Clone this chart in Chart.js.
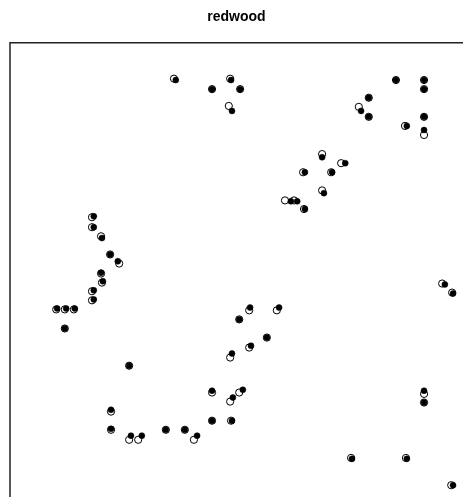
<!DOCTYPE html>
<html>
<head>
<meta charset="utf-8">
<script src="https://cdn.jsdelivr.net/npm/chart.js@4"></script>
<style>
  html, body { margin: 0; padding: 0; background: #fff; }
  #wrap { width: 463px; height: 497px; }
</style>
</head>
<body>
<div id="wrap"><canvas id="chart"></canvas></div>
<script>
// redwood seedlings: original locations (open circles)
const treeX = [0.362, 0.446, 0.486, 0.508, 0.483, 0.852, 0.914, 0.914, 0.792, 0.770,
  0.792, 0.914, 0.872, 0.914, 0.689, 0.731, 0.647, 0.709, 0.689, 0.607,
  0.627, 0.649, 0.181, 0.181, 0.201, 0.221, 0.241, 0.201, 0.203, 0.181,
  0.181, 0.102, 0.121, 0.141, 0.121, 0.528, 0.589, 0.506, 0.567, 0.528,
  0.486, 0.263, 0.223, 0.223, 0.263, 0.283, 0.344, 0.386, 0.406, 0.446,
  0.446, 0.486, 0.506, 0.488, 0.914, 0.914, 0.753, 0.874, 0.974, 0.954,
  0.976];
const treeY = [-0.079, -0.102, -0.079, -0.102, -0.139, -0.082, -0.082, -0.102, -0.121, -0.141,
  -0.163, -0.163, -0.183, -0.203, -0.245, -0.265, -0.285, -0.285, -0.325, -0.347,
  -0.347, -0.366, -0.384, -0.406, -0.426, -0.466, -0.486, -0.508, -0.528, -0.547,
  -0.567, -0.587, -0.587, -0.587, -0.629, -0.589, -0.589, -0.609, -0.649, -0.671,
  -0.693, -0.711, -0.812, -0.852, -0.874, -0.874, -0.852, -0.852, -0.874, -0.770,
  -0.832, -0.790, -0.770, -0.832, -0.773, -0.792, -0.914, -0.914, -0.974, -0.530,
  -0.550];

// jittered locations (filled dots)
const jitX = [0.366, 0.446, 0.488, 0.508, 0.490, 0.852, 0.914, 0.914, 0.792, 0.775,
  0.792, 0.914, 0.876, 0.914, 0.689, 0.740, 0.651, 0.711, 0.693, 0.620,
  0.634, 0.651, 0.185, 0.185, 0.203, 0.221, 0.238, 0.201, 0.205, 0.185,
  0.185, 0.104, 0.124, 0.143, 0.121, 0.530, 0.594, 0.506, 0.567, 0.532,
  0.490, 0.263, 0.223, 0.223, 0.267, 0.291, 0.344, 0.386, 0.413, 0.446,
  0.446, 0.492, 0.514, 0.490, 0.914, 0.914, 0.755, 0.876, 0.978, 0.960,
  0.978];
const jitY = [-0.082, -0.102, -0.082, -0.102, -0.150, -0.082, -0.082, -0.102, -0.121, -0.150,
  -0.163, -0.163, -0.183, -0.192, -0.252, -0.265, -0.285, -0.285, -0.331, -0.349,
  -0.349, -0.366, -0.382, -0.406, -0.430, -0.466, -0.481, -0.506, -0.525, -0.545,
  -0.565, -0.585, -0.585, -0.585, -0.629, -0.583, -0.583, -0.609, -0.649, -0.667,
  -0.684, -0.711, -0.808, -0.850, -0.865, -0.865, -0.852, -0.852, -0.865, -0.766,
  -0.832, -0.781, -0.764, -0.832, -0.766, -0.792, -0.916, -0.916, -0.974, -0.532,
  -0.552];

const toPoints = (xs, ys) => xs.map((x, i) => ({ x, y: ys[i] }));

// only the left and top edges of the window box show; the rest runs off the page
const frame = {
  id: 'frame',
  afterDraw(chart) {
    const { ctx, chartArea } = chart;
    ctx.save();
    ctx.strokeStyle = '#222';
    ctx.lineWidth = 1.5;
    ctx.beginPath();
    ctx.moveTo(chartArea.left, chartArea.bottom + 2);
    ctx.lineTo(chartArea.left, chartArea.top);
    ctx.lineTo(chartArea.right + 2, chartArea.top);
    ctx.stroke();
    ctx.restore();
  },
};

new Chart(document.getElementById('chart'), {
  type: 'scatter',
  data: {
    datasets: [
      {
        label: 'jittered',
        data: toPoints(jitX, jitY),
        pointRadius: 3,
        pointBackgroundColor: '#000',
        pointBorderColor: '#000',
        pointBorderWidth: 0.5,
        order: 0,
      },
      {
        label: 'redwood',
        data: toPoints(treeX, treeY),
        pointRadius: 3.6,
        pointBackgroundColor: '#fff',
        pointBorderColor: '#000',
        pointBorderWidth: 1,
        order: 1,
      },
    ],
  },
  options: {
    responsive: true,
    maintainAspectRatio: false,
    animation: false,
    events: [],
    clip: false,
    layout: { autoPadding: false, padding: { left: 10, top: 0, right: 0, bottom: 0 } },
    plugins: {
      legend: { display: false },
      tooltip: { enabled: false },
      title: {
        display: true,
        text: 'redwood',
        color: '#000',
        font: { family: 'Liberation Sans, Arial, sans-serif', size: 14, weight: 'bold' },
        padding: { top: 9, bottom: 17 },
      },
    },
    scales: {
      x: { type: 'linear', min: 0, max: 1, display: false },
      y: { type: 'linear', min: -1, max: 0, display: false },
    },
  },
  plugins: [frame],
});
</script>
</body>
</html>
